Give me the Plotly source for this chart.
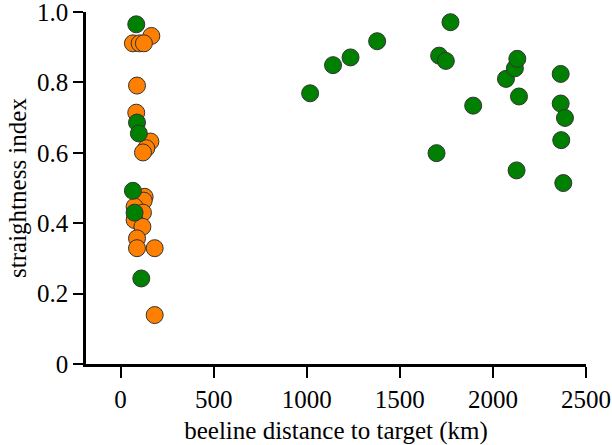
import plotly.graph_objects as go

# Orange group (short distances)
orange_x = [165, 66, 102, 125, 88, 84, 160, 138, 120, 129, 124, 75, 120, 75, 117, 88, 88, 183, 183]
orange_y = [0.932, 0.911, 0.911, 0.911, 0.791, 0.714, 0.632, 0.613, 0.601, 0.475, 0.464, 0.447,
            0.430, 0.409, 0.390, 0.357, 0.329, 0.329, 0.139]

# Green group
green_x = [84, 88, 98, 66, 75, 111,
           1018, 1141, 1235, 1378, 1697, 1711, 1747, 1772, 1894, 2070, 2118, 2127, 2131, 2140,
           2364, 2364, 2367, 2378, 2387]
green_y = [0.965, 0.686, 0.655, 0.492, 0.430, 0.243,
           0.769, 0.849, 0.871, 0.917, 0.599, 0.876, 0.861, 0.971, 0.734, 0.810, 0.840, 0.550,
           0.867, 0.760, 0.824, 0.740, 0.636, 0.514, 0.699]

x_ticks = [0, 500, 1000, 1500, 2000, 2500]
y_ticks = [0, 0.2, 0.4, 0.6, 0.8, 1.0]
y_tick_text = ["0", "0.2", "0.4", "0.6", "0.8", "1.0"]

font_family = "Liberation Serif"

fig = go.Figure()
fig.add_trace(go.Scatter(
    x=orange_x, y=orange_y, mode="markers",
    marker=dict(size=17, color="#FF8000", line=dict(color="#333333", width=1)),
    cliponaxis=False, showlegend=False))
fig.add_trace(go.Scatter(
    x=green_x, y=green_y, mode="markers",
    marker=dict(size=17, color="#008000", line=dict(color="#333333", width=1)),
    cliponaxis=False, showlegend=False))

fig.update_layout(
    width=612, height=445,
    margin=dict(l=86, r=26, t=12, b=81, autoexpand=False),
    paper_bgcolor="white", plot_bgcolor="white",
    font=dict(family=font_family, size=25, color="black"),
    xaxis=dict(
        range=[-186, 2500], tickvals=x_ticks, ticks="outside", ticklen=11, tickwidth=2,
        tickcolor="black", showline=True, linecolor="black", linewidth=2.5,
        showgrid=False, zeroline=False, automargin=True, ticklabeloverflow="allow",
        tickfont=dict(family=font_family, size=25),
        title=dict(text="beeline distance to target (km)", font=dict(family=font_family, size=25),
                   standoff=10),
    ),
    yaxis=dict(
        range=[0, 1.0], tickvals=y_ticks, ticktext=y_tick_text, ticks="outside", ticklen=10,
        tickwidth=2, tickcolor="black", showline=True, linecolor="black", linewidth=2.5,
        showgrid=False, zeroline=False, automargin=True, ticklabeloverflow="allow",
        tickfont=dict(family=font_family, size=25),
        title=dict(text="straightness index", font=dict(family=font_family, size=25),
                   standoff=4),
    ),
)

fig.write_html("out.html", config={"displayModeBar": False},
               post_script="document.body.style.margin='0';")
